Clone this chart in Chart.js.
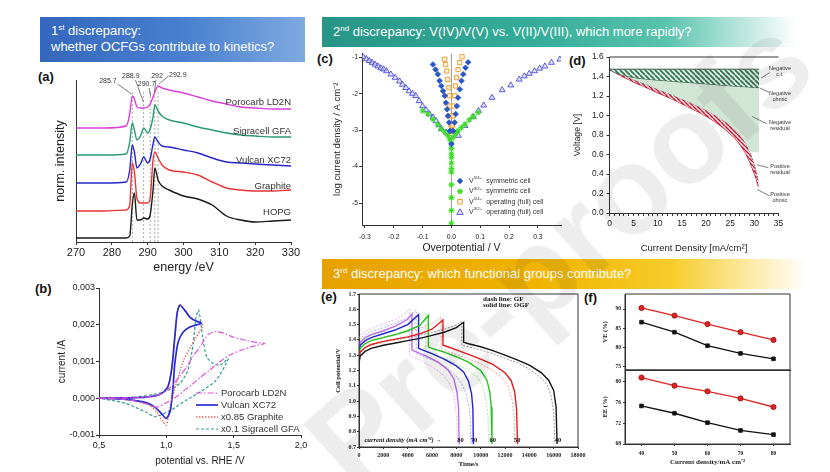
<!DOCTYPE html>
<html lang="en">
<head>
<meta charset="utf-8">
<title>Three discrepancies</title>
<script src="https://cdn.jsdelivr.net/npm/chart.js@4.4.1/dist/chart.umd.min.js"></script>
<style>
  html, body { margin: 0; padding: 0; background: #fff; }
  #page { position: relative; width: 830px; height: 472px; overflow: hidden; background: #fff;
          font-family: "Liberation Sans", Arial, sans-serif; }
  #page canvas { position: absolute; }
  .hdr { position: absolute; box-sizing: border-box; padding: 7px 0 0 11px; color: #fff;
         font-size: 13px; line-height: 16px; white-space: nowrap; }
  .hdr sup { font-size: 8px; line-height: 0; vertical-align: 5px; }
  .tag { position: absolute; font-size: 13px; font-weight: bold; color: #111; line-height: 16px; }
  .wm { position: absolute; left: 209px; top: 190px; width: 700px; text-align: center;
        font: bold 124px/124px "Liberation Sans", Arial, sans-serif; color: rgba(0,0,0,0.07);
        transform: rotate(-42deg); transform-origin: 50% 50%; white-space: nowrap; pointer-events: none; }
</style>
</head>
<body>
<div id="page">
  <div class="hdr" style="left:40px;top:17px;width:265px;height:45px;padding-top:6px;background:linear-gradient(90deg,#3467bd,#4a80cf 55%,#7eaae0);">1<sup>st</sup> discrepancy:<br>whether OCFGs contribute to kinetics?</div>
  <div class="hdr" style="left:322px;top:17px;width:475px;height:30px;background:linear-gradient(90deg,#279487,#35ad9a 45%,#58c3ac 72%,rgba(255,255,255,0));">2<sup>nd</sup> discrepancy: V(IV)/V(V) vs. V(II)/V(III), which more rapidly?</div>
  <div class="hdr" style="left:322px;top:259px;width:485px;height:30px;background:linear-gradient(90deg,#e6a100,#f0b400 45%,#f7cc2a 72%,rgba(255,255,255,0));">3<sup>rd</sup> discrepancy: which functional groups contribute?</div>
  <div class="tag" style="left:38px;top:69px;">(a)</div>
  <div class="tag" style="left:35px;top:281px;">(b)</div>
  <div class="tag" style="left:317px;top:51px;">(c)</div>
  <div class="tag" style="left:569px;top:53px;">(d)</div>
  <div class="tag" style="left:321px;top:289px;">(e)</div>
  <div class="tag" style="left:584px;top:290px;">(f)</div>
</div>
<script>
// ---------- (a) C K-edge spectra, stacked ----------
const energy    = [270, 278, 284, 285, 285.7, 286.3, 287, 288, 288.9, 290, 290.7, 291.5, 292, 292.9, 294, 296, 300, 304, 308, 312, 316, 320, 325, 330];
const hopg      = [4, 4, 4, 6, 37, 49, 22, 22, 24, 23, 27, 52, 74, 62, 56, 52, 46, 43, 37, 26, 22, 20, 21, 22];
const graphite  = [31, 31, 32, 37, 79, 70, 44, 39, 39, 39, 44, 82, 90, 84, 77, 72, 70, 67, 60, 54, 52, 51, 51, 52];
const vulcan    = [59, 59, 60, 72, 97, 90, 74, 78, 85, 79, 83, 98, 105, 100, 96, 95, 92, 89, 84, 80, 79, 78, 77, 76];
const sigracell = [87, 87, 88, 100, 119, 112, 102, 106, 114, 109, 113, 125, 137, 131, 126, 122, 119, 115, 112, 109, 107, 106, 105, 105];
const porocarb  = [114, 114, 116, 128, 146, 143, 135, 134, 134, 135, 138, 145, 150, 156, 154, 152, 149, 145, 141, 138, 135, 134, 133, 133];
const peakEnergies = [285.7, 288.9, 290.7, 292, 292.9];
const energyTicks = [270, 280, 290, 300, 310, 320, 330];

// ---------- (b) cyclic voltammograms ----------
const vulcanE = [0.5, 0.7, 0.85, 0.95, 1.01, 1.04, 1.063, 1.08, 1.10, 1.137, 1.174, 1.22, 1.26, 1.22, 1.174, 1.125, 1.088, 1.063, 1.05, 1.03, 1.0, 0.964, 0.915, 0.85, 0.7, 0.5];
const vulcanI = [0, 0.00001, 0.00003, 0.0001, 0.0003, 0.0008, 0.00167, 0.0023, 0.00253, 0.00239, 0.00221, 0.0021, 0.00205, 0.00199, 0.00194, 0.0018, 0.00153, 0.00094, 0.00031, -0.00033, -0.00055, -0.00042, -0.00024, -0.00012, -0.00003, 0];
const graphE  = [0.5, 0.7, 0.85, 0.95, 1.01, 1.04, 1.063, 1.08, 1.10, 1.137, 1.174, 1.22, 1.27, 1.25, 1.22, 1.18, 1.13, 1.09, 1.05, 1.02, 1.0, 0.97, 0.93, 0.87, 0.75, 0.5];
const graphI  = [0, 0.00001, 0.00003, 0.0001, 0.0003, 0.0008, 0.00167, 0.0023, 0.00255, 0.00241, 0.00222, 0.0021, 0.002, 0.00185, 0.00165, 0.0014, 0.00105, 0.0006, 0.0001, -0.0004, -0.00073, -0.00062, -0.00038, -0.00018, -0.00005, 0];
const poroE   = [0.5, 0.8, 0.95, 1.03, 1.1, 1.15, 1.2, 1.25, 1.31, 1.36, 1.42, 1.5, 1.6, 1.68, 1.73, 1.65, 1.55, 1.47, 1.4, 1.32, 1.25, 1.2, 1.13, 1.075, 1.0, 0.93, 0.85, 0.7, 0.5];
const poroI   = [0, 0.00002, 0.0001, 0.0003, 0.0006, 0.00085, 0.00115, 0.0014, 0.00173, 0.00181, 0.00178, 0.00166, 0.00157, 0.00151, 0.00149, 0.00142, 0.0013, 0.00117, 0.001, 0.00076, 0.00056, 0.0004, 0.0002, 0.00004, -0.00012, -0.00024, -0.00015, -0.00003, 0];
const sigraE  = [0.5, 0.75, 0.9, 1.0, 1.1, 1.16, 1.2, 1.22, 1.24, 1.27, 1.3, 1.35, 1.4, 1.46, 1.37, 1.27, 1.15, 1.03, 0.96, 0.915, 0.85, 0.7, 0.55, 0.5];
const sigraI  = [0, 0.00002, 0.0001, 0.0002, 0.0004, 0.00076, 0.0015, 0.0022, 0.0024, 0.00167, 0.00112, 0.00094, 0.0009, 0.00108, 0.00049, 0.00022, -0.00005, -0.00033, -0.00045, -0.0005, -0.00038, -0.00014, -0.00003, 0];
const potTicks = [0.5, 1.0, 1.5, 2.0];
const curTicks = [-0.001, 0, 0.001, 0.002, 0.003];

// ---------- (c) log current density vs overpotential ----------
const etaSym54 = [-0.064, -0.055, -0.047, -0.041, -0.035, -0.029, -0.023, -0.019, -0.015, -0.012, -0.008, -0.005, 0, 0.006, 0.011, 0.015, 0.019, 0.023, 0.029, 0.035, 0.041, 0.049, 0.058];
const ljSym54  = [-1.2, -1.34, -1.47, -1.65, -1.79, -1.93, -2.06, -2.25, -2.43, -2.61, -2.79, -3.02, -3.38, -3.02, -2.79, -2.56, -2.34, -2.11, -1.88, -1.65, -1.47, -1.29, -1.14];
const etaSym32 = [-0.1, -0.082, -0.064, -0.047, -0.035, -0.023, -0.012, -0.006, 0, 0, 0, 0, 0, 0, 0, 0, 0, 0, 0, 0.006, 0.014, 0.023, 0.035, 0.047, 0.062, 0.076, 0.093];
const ljSym32  = [-2.47, -2.56, -2.7, -2.84, -2.97, -3.06, -3.15, -3.25, -3.35, -3.5, -3.65, -3.75, -3.9, -4.05, -4.15, -4.5, -4.85, -5.2, -5.55, -3.2, -3.1, -3.02, -2.93, -2.84, -2.72, -2.63, -2.52];
const etaOp54  = [-0.023, -0.02, -0.016, -0.013, -0.009, -0.007, -0.005, -0.002, -0.001, 0, 0.004, 0.006, 0.008, 0.011, 0.014, 0.018, 0.023, 0.029, 0.037];
const ljOp54   = [-1.06, -1.2, -1.38, -1.61, -1.84, -2.06, -2.34, -2.61, -2.88, -3.15, -2.88, -2.61, -2.34, -2.06, -1.79, -1.56, -1.34, -1.15, -0.99];
const etaOp32  = [-0.306, -0.295, -0.285, -0.275, -0.265, -0.255, -0.245, -0.235, -0.225, -0.21, -0.195, -0.18, -0.17, -0.158, -0.147, -0.135, -0.124, -0.112, -0.1, -0.088, -0.076, -0.064, -0.053, -0.044, -0.035, -0.018, 0.024, 0.047, 0.076, 0.094, 0.112, 0.141, 0.176, 0.206, 0.235, 0.253, 0.27, 0.288, 0.306, 0.324, 0.347, 0.376];
const ljOp32   = [-0.99, -1.05, -1.1, -1.15, -1.2, -1.25, -1.3, -1.33, -1.38, -1.47, -1.56, -1.66, -1.75, -1.84, -1.93, -2.0, -2.06, -2.2, -2.34, -2.45, -2.56, -2.65, -2.75, -2.86, -2.97, -3.06, -3.15, -2.88, -2.63, -2.47, -2.32, -2.11, -1.9, -1.77, -1.61, -1.52, -1.45, -1.38, -1.31, -1.25, -1.15, -1.06];
const etaTicks = [-0.3, -0.2, -0.1, 0, 0.1, 0.2, 0.3];
const ljTicks  = [-5, -4, -3, -2, -1];

// ---------- (d) polarization curve, loss breakdown ----------
const cdOcv = [0, 31];
const vOcv  = [1.475, 1.475];
const cdTop = [0, 1, 2, 3, 5, 7.5, 10, 15, 20, 25, 31];
const vTop  = [1.475, 1.445, 1.425, 1.41, 1.39, 1.375, 1.365, 1.345, 1.325, 1.305, 1.285];
const cdBand   = [0, 2.5, 5, 7.5, 10, 12.5, 15, 17.5, 20, 22.5, 25, 26.5, 28, 29, 29.8, 30.4, 30.8];
const vBandTop = [1.475, 1.42, 1.37, 1.32, 1.27, 1.22, 1.17, 1.115, 1.055, 0.985, 0.9, 0.83, 0.73, 0.63, 0.52, 0.42, 0.33];
const vBandLow = [1.475, 1.405, 1.345, 1.29, 1.235, 1.18, 1.12, 1.06, 0.995, 0.915, 0.815, 0.74, 0.63, 0.53, 0.43, 0.35, 0.27];
const cdCorner = [31];
const vCorner  = [0.62];
const cdMajor = [0, 5, 10, 15, 20, 25, 30, 35];
const vdTicks = [0, 0.2, 0.4, 0.6, 0.8, 1.0, 1.2, 1.4, 1.6];

// ---------- (e) charge / discharge, OGF solid and GF dashed ----------
const t40 = [0, 100, 500, 1000, 2000, 3000, 4000, 5000, 6000, 7000, 8000, 8600, 8600, 9000, 10000, 11000, 12000, 13000, 14000, 15000, 15600, 16000, 16200, 16280];
const v40 = [1.25, 1.295, 1.325, 1.345, 1.365, 1.38, 1.395, 1.41, 1.43, 1.45, 1.48, 1.515, 1.385, 1.375, 1.355, 1.33, 1.30, 1.27, 1.235, 1.185, 1.135, 1.07, 0.96, 0.72];
const t50 = [0, 100, 500, 1000, 2000, 3000, 4000, 5000, 6000, 6900, 6900, 7300, 8000, 9000, 10000, 11000, 12000, 12500, 12800, 12950, 13030];
const v50 = [1.28, 1.32, 1.35, 1.37, 1.39, 1.405, 1.42, 1.44, 1.47, 1.53, 1.365, 1.355, 1.335, 1.305, 1.275, 1.24, 1.185, 1.135, 1.06, 0.95, 0.72];
const t60 = [0, 100, 500, 1000, 2000, 3000, 4000, 5000, 5700, 5700, 6000, 7000, 8000, 9000, 10000, 10500, 10750, 10870, 10930];
const v60 = [1.30, 1.345, 1.375, 1.395, 1.415, 1.435, 1.46, 1.495, 1.56, 1.355, 1.345, 1.32, 1.29, 1.255, 1.2, 1.14, 1.06, 0.96, 0.72];
const t70 = [0, 100, 500, 1000, 2000, 3000, 4000, 4900, 4900, 5200, 6000, 7000, 8000, 8600, 9000, 9250, 9360, 9400];
const v70 = [1.32, 1.365, 1.395, 1.415, 1.44, 1.465, 1.50, 1.565, 1.345, 1.335, 1.31, 1.275, 1.23, 1.19, 1.13, 1.05, 0.95, 0.72];
const t80 = [0, 100, 500, 1000, 2000, 3000, 4000, 4350, 4350, 4600, 5500, 6500, 7300, 7800, 8050, 8180, 8230];
const v80 = [1.34, 1.385, 1.415, 1.435, 1.46, 1.49, 1.535, 1.57, 1.335, 1.325, 1.295, 1.255, 1.205, 1.145, 1.06, 0.96, 0.72];
const t40gf = [0, 100, 500, 1000, 2000, 3000, 4000, 5000, 6000, 7000, 8000, 8450, 8450, 9000, 10000, 11000, 12000, 13000, 14000, 15000, 15500, 15800, 16000, 16100];
const v40gf = [1.28, 1.32, 1.35, 1.365, 1.385, 1.40, 1.415, 1.43, 1.45, 1.47, 1.495, 1.525, 1.365, 1.355, 1.335, 1.31, 1.28, 1.25, 1.21, 1.15, 1.10, 1.03, 0.93, 0.72];
const t50gf = [0, 100, 500, 1000, 2000, 3000, 4000, 5000, 6000, 6750, 6750, 7200, 8000, 9000, 10000, 11000, 11800, 12300, 12600, 12750, 12800];
const v50gf = [1.32, 1.355, 1.385, 1.40, 1.42, 1.435, 1.455, 1.475, 1.505, 1.55, 1.335, 1.325, 1.305, 1.275, 1.245, 1.20, 1.15, 1.09, 1.0, 0.9, 0.72];
const t60gf = [0, 100, 500, 1000, 2000, 3000, 4000, 5000, 5500, 5500, 6000, 7000, 8000, 9000, 9800, 10200, 10450, 10600, 10650];
const v60gf = [1.35, 1.385, 1.41, 1.43, 1.45, 1.47, 1.495, 1.53, 1.58, 1.325, 1.31, 1.28, 1.245, 1.20, 1.15, 1.09, 1.0, 0.9, 0.72];
const t70gf = [0, 100, 500, 1000, 2000, 3000, 4000, 4700, 4700, 5000, 6000, 7000, 7800, 8400, 8800, 9050, 9150, 9200];
const v70gf = [1.38, 1.41, 1.435, 1.455, 1.48, 1.51, 1.545, 1.595, 1.31, 1.30, 1.27, 1.23, 1.18, 1.12, 1.05, 0.96, 0.88, 0.72];
const t80gf = [0, 100, 500, 1000, 2000, 3000, 3800, 4150, 4150, 4400, 5200, 6000, 6800, 7400, 7800, 7950, 8050, 8080];
const v80gf = [1.41, 1.435, 1.455, 1.475, 1.505, 1.535, 1.57, 1.60, 1.30, 1.29, 1.26, 1.225, 1.18, 1.12, 1.04, 0.95, 0.85, 0.72];
const timeTicks = [0, 2000, 4000, 6000, 8000, 10000, 12000, 14000, 16000, 18000];
const cellTicks = [0.7, 0.8, 0.9, 1.0, 1.1, 1.2, 1.3, 1.4, 1.5, 1.6, 1.7];

// ---------- (f) voltage / energy efficiency ----------
const cdEff = [40, 50, 60, 70, 80];
const veOGF = [90.3, 88.3, 86.1, 84.0, 82.0];
const veGF  = [86.6, 84.0, 80.5, 78.5, 77.1];
const eeOGF = [80.75, 79.2, 78.1, 76.75, 75.1];
const eeGF  = [75.3, 73.9, 72.1, 70.6, 69.8];
const veTicks = [75, 80, 85, 90];
const eeTicks = [68, 72, 76, 80];

// ---------- helpers ----------
const SANS = "'Liberation Sans', Arial, sans-serif";
const SERIF = "'Liberation Serif', 'Times New Roman', serif";
const INK = '#222';
Chart.defaults.animation = false;
Chart.defaults.color = INK;
Chart.defaults.font.family = SANS;

const pts = (xs, ys) => xs.map((x, i) => ({ x, y: ys[i] }));
const fnt = (size, family, weight, style) => ({ size, family: family || SANS, weight: weight || 'normal', style: style || 'normal' });
const fontStr = f => `${f.style} ${f.weight} ${f.size}px ${f.family}`;

function axis(o) {
  return {
    type: 'linear', min: o.min, max: o.max, position: o.pos,
    afterBuildTicks: s => { s.ticks = o.ticks.map(v => ({ value: v })); },
    afterFit: s => {
      if (o.pos === 'bottom') s.height = o.size; else s.width = o.size;
      s.paddingLeft = s.paddingRight = s.paddingTop = s.paddingBottom = 0;
    },
    ticks: { display: o.labels !== false, font: o.font, color: INK, padding: o.pad || 0,
             callback: o.fmt || (v => v), maxRotation: 0, minRotation: 0, autoSkip: false },
    grid: { display: (o.tick || 0) > 0, drawOnChartArea: false, drawTicks: (o.tick || 0) > 0,
            tickLength: o.tick || 0, color: '#333', tickColor: '#333' },
    border: { display: o.border !== false, color: '#333', width: 1 },
    title: o.title ? { display: true, text: o.title, font: o.titleFont, color: INK, padding: o.titlePad }
                   : { display: false }
  };
}

function hatch(bg, fg, step, lw) {
  const c = document.createElement('canvas');
  c.width = c.height = step;
  const x = c.getContext('2d');
  x.fillStyle = bg; x.fillRect(0, 0, step, step);
  x.strokeStyle = fg; x.lineWidth = lw;
  x.beginPath();
  for (let k = -1; k <= 1; k++) { x.moveTo(k * step, 0); x.lineTo(k * step + step, step); }
  x.stroke();
  return x.createPattern(c, 'repeat');
}

function marker(ctx, style, r, x, y, fill, stroke, lw) {
  ctx.save();
  ctx.fillStyle = fill; ctx.strokeStyle = stroke; ctx.lineWidth = lw || 1;
  ctx.beginPath();
  if (style === 'rectRot') { ctx.moveTo(x, y - r); ctx.lineTo(x + r, y); ctx.lineTo(x, y + r); ctx.lineTo(x - r, y); ctx.closePath(); }
  else if (style === 'rect') { ctx.rect(x - r * 0.75, y - r * 0.75, r * 1.5, r * 1.5); }
  else if (style === 'triangle') { ctx.moveTo(x, y - r); ctx.lineTo(x + r * 0.95, y + r * 0.65); ctx.lineTo(x - r * 0.95, y + r * 0.65); ctx.closePath(); }
  else if (style === 'star') { ctx.moveTo(x - r, y); ctx.lineTo(x + r, y); ctx.moveTo(x, y - r); ctx.lineTo(x, y + r);
                               ctx.moveTo(x - r * 0.7, y - r * 0.7); ctx.lineTo(x + r * 0.7, y + r * 0.7);
                               ctx.moveTo(x - r * 0.7, y + r * 0.7); ctx.lineTo(x + r * 0.7, y - r * 0.7); ctx.stroke(); ctx.restore(); return; }
  else { ctx.arc(x, y, r, 0, Math.PI * 2); }
  ctx.fill(); ctx.stroke();
  ctx.restore();
}

// text with ^{...} superscripts
function richText(ctx, text, x, y, f, color) {
  const parts = text.split(/\^\{([^}]*)\}/);
  ctx.fillStyle = color; ctx.textAlign = 'left'; ctx.textBaseline = 'middle';
  parts.forEach((p, i) => {
    if (!p) return;
    const sup = i % 2 === 1;
    const ff = sup ? Object.assign({}, f, { size: f.size * 0.62 }) : f;
    ctx.font = fontStr(ff);
    ctx.fillText(p, x, sup ? y - f.size * 0.42 : y);
    x += ctx.measureText(p).width + (sup ? 2 : 0);
  });
}

const framePlugin = {
  id: 'frame',
  afterDraw(chart, args, o) {
    if (!o.sides) return;
    const { ctx, chartArea: a } = chart;
    ctx.save(); ctx.strokeStyle = '#333'; ctx.lineWidth = 1;
    ctx.beginPath();
    if (o.sides.includes('t')) { ctx.moveTo(a.left, a.top); ctx.lineTo(a.right, a.top); }
    if (o.sides.includes('r')) { ctx.moveTo(a.right, a.top); ctx.lineTo(a.right, a.bottom); }
    if (o.sides.includes('b')) { ctx.moveTo(a.left, a.bottom); ctx.lineTo(a.right, a.bottom); }
    if (o.sides.includes('l')) { ctx.moveTo(a.left, a.top); ctx.lineTo(a.left, a.bottom); }
    ctx.stroke(); ctx.restore();
  }
};

const notesPlugin = {
  id: 'notes',
  afterDatasetsDraw(chart, args, o) {
    if (!o.texts && !o.lines) return;
    const { ctx } = chart, sx = chart.scales.x, sy = chart.scales.y;
    ctx.save();
    (o.lines || []).forEach(l => {
      ctx.strokeStyle = l.color || '#444'; ctx.lineWidth = l.width || 0.7;
      ctx.beginPath();
      ctx.moveTo(sx.getPixelForValue(l.x1), sy.getPixelForValue(l.y1));
      ctx.lineTo(sx.getPixelForValue(l.x2), sy.getPixelForValue(l.y2));
      ctx.stroke();
    });
    (o.texts || []).forEach(t => {
      ctx.font = fontStr(t.font || o.font);
      ctx.fillStyle = t.color || o.color || '#333';
      ctx.textAlign = t.align || 'center'; ctx.textBaseline = 'middle';
      ctx.fillText(t.text, sx.getPixelForValue(t.x), sy.getPixelForValue(t.y));
    });
    ctx.restore();
  }
};

const keyPlugin = {
  id: 'key',
  afterDraw(chart, args, o) {
    if (!o.rows) return;
    const ctx = chart.ctx;
    ctx.save();
    o.rows.forEach((di, k) => {
      const ds = chart.data.datasets[di];
      const y = o.y + k * o.step;
      if (o.mode === 'line') {
        ctx.strokeStyle = ds.borderColor; ctx.lineWidth = ds.borderWidth;
        ctx.setLineDash(ds.borderDash || []);
        ctx.beginPath(); ctx.moveTo(o.x, y); ctx.lineTo(o.x + o.len, y); ctx.stroke();
        ctx.setLineDash([]);
      } else {
        marker(ctx, ds.pointStyle, ds.pointRadius, o.x + o.len / 2, y, ds.pointBackgroundColor, ds.pointBorderColor, ds.pointBorderWidth);
      }
      richText(ctx, ds.label, o.x + o.len + o.gap, y, o.font, '#333');
    });
    ctx.restore();
  }
};
Chart.register(framePlugin, notesPlugin, keyPlugin);

function makeChart(id, box, area, datasets, xo, yo, plugins) {
  const c = document.createElement('canvas');
  c.id = id; c.width = box.w; c.height = box.h;
  Object.assign(c.style, { left: box.x + 'px', top: box.y + 'px', width: box.w + 'px', height: box.h + 'px' });
  document.getElementById('page').appendChild(c);
  xo.pos = 'bottom'; xo.size = box.y + box.h - area.b;
  yo.pos = 'left'; yo.size = area.l - box.x;
  return new Chart(c, {
    type: 'line',
    data: { datasets },
    options: {
      responsive: false, animation: false,
      layout: { padding: { left: 0, top: area.t - box.y, right: box.x + box.w - area.r, bottom: 0 } },
      scales: { x: axis(xo), y: axis(yo) },
      elements: { point: { radius: 0, hoverRadius: 0 } },
      plugins: Object.assign({ legend: { display: false }, tooltip: { enabled: false } }, plugins || {})
    }
  });
}

// ---------- (a) ----------
const spectra = [
  { label: 'Porocarb LD2N', y: porocarb, color: '#dc3fdc', at: 140 },
  { label: 'Sigracell GFA', y: sigracell, color: '#2a9a74', at: 111 },
  { label: 'Vulcan XC72', y: vulcan, color: '#2626c8', at: 82 },
  { label: 'Graphite', y: graphite, color: '#e53535', at: 56 },
  { label: 'HOPG', y: hopg, color: '#1a1a1a', at: 30 }
];
const dsA = spectra.map(s => ({
  label: s.label, data: pts(energy, s.y), borderColor: s.color, borderWidth: 1.4,
  cubicInterpolationMode: 'monotone', pointRadius: 0
}));
peakEnergies.forEach(p => dsA.push({
  data: [{ x: p, y: 0 }, { x: p, y: 152 }], borderColor: '#8a8a8a', borderWidth: 0.7, borderDash: [2, 2], pointRadius: 0
}));
makeChart('chA', { x: 40, y: 70, w: 270, h: 210 }, { l: 76, t: 80, r: 291, b: 242 }, dsA,
  { min: 270, max: 330, ticks: energyTicks, font: fnt(11), tick: 3, pad: 1,
    title: 'energy /eV', titleFont: fnt(12.5), titlePad: { top: 0, bottom: 4.8 } },
  { min: 0, max: 162, ticks: [], labels: false, tick: 0,
    title: 'norm. intensity', titleFont: fnt(12.5), titlePad: { top: 13.5, bottom: 0 } },
  { notes: {
      font: fnt(9.5), color: '#333',
      texts: spectra.map(s => ({ x: 330, y: s.at, text: s.label, align: 'right' })).concat([
        { x: 278.9, y: 161, text: '285.7', font: fnt(7) },
        { x: 285.3, y: 166, text: '288.9', font: fnt(7) },
        { x: 289.7, y: 158, text: '290.7', font: fnt(7) },
        { x: 292.6, y: 166, text: '292', font: fnt(7) },
        { x: 298.4, y: 167, text: '292.9', font: fnt(7) }
      ]),
      lines: [
        { x1: 281.6, y1: 158, x2: 285.5, y2: 148 },
        { x1: 286.6, y1: 162, x2: 288.8, y2: 140 },
        { x1: 290.4, y1: 154, x2: 290.8, y2: 146 },
        { x1: 292.3, y1: 162, x2: 291.9, y2: 150 },
        { x1: 295.8, y1: 166, x2: 293.2, y2: 158 }
      ]
  } });

// ---------- (b) ----------
const dsB = [
  { label: 'Porocarb LD2N', data: pts(poroE, poroI), borderColor: '#e052e0', borderWidth: 1.2, borderDash: [6, 2, 1.5, 2] },
  { label: 'Vulcan XC72', data: pts(vulcanE, vulcanI), borderColor: '#2a2ad4', borderWidth: 1.7, borderDash: [] },
  { label: 'x0.85 Graphite', data: pts(graphE, graphI), borderColor: '#e86a5c', borderWidth: 1.4, borderDash: [1.5, 1.5] },
  { label: 'x0.1 Sigracell GFA', data: pts(sigraE, sigraI), borderColor: '#2f9f97', borderWidth: 1.2, borderDash: [3, 2] }
].map(d => Object.assign(d, { pointRadius: 0, tension: 0.25 }));
makeChart('chB', { x: 30, y: 282, w: 280, h: 190 }, { l: 99, t: 288, r: 301, b: 435 }, dsB,
  { min: 0.5, max: 2.0, ticks: potTicks, font: fnt(9), tick: 3, pad: 2,
    fmt: v => v.toFixed(1).replace('.', ','),
    title: 'potential vs. RHE /V', titleFont: fnt(10), titlePad: { top: 0, bottom: 5 } },
  { min: -0.001, max: 0.003, ticks: curTicks, font: fnt(9), tick: 3, pad: 1,
    fmt: v => v.toFixed(3).replace('.', ','),
    title: 'current /A', titleFont: fnt(10), titlePad: { top: 26.5, bottom: 0 } },
  { key: { mode: 'line', rows: [0, 1, 2, 3], x: 166, y: 111, step: 12, len: 22, gap: 3, font: fnt(9.5) } });

// ---------- (c) ----------
const dsC = [
  { label: 'V^{5/4+} symmetric cell', data: pts(etaSym54, ljSym54), pointStyle: 'rectRot', pointRadius: 2.8,
    pointBackgroundColor: '#2856c4', pointBorderColor: '#2856c4', pointBorderWidth: 0.8 },
  { label: 'V^{3/2+} symmetric cell', data: pts(etaSym32, ljSym32), pointStyle: 'star', pointRadius: 3,
    pointBackgroundColor: '#3fdc2a', pointBorderColor: '#3fdc2a', pointBorderWidth: 1.1 },
  { label: 'V^{5/4+} operating (full) cell', data: pts(etaOp54, ljOp54), pointStyle: 'rect', pointRadius: 3,
    pointBackgroundColor: 'rgba(255,240,215,0.6)', pointBorderColor: '#f0a030', pointBorderWidth: 1 },
  { label: 'V^{3/2+} operating (full) cell', data: pts(etaOp32, ljOp32), pointStyle: 'triangle', pointRadius: 3.4,
    pointBackgroundColor: 'rgba(200,200,250,0.5)', pointBorderColor: '#4b4bd2', pointBorderWidth: 0.9 }
].map(d => Object.assign(d, { showLine: false, pointHoverRadius: 0 }));
dsC.push({ data: [{ x: 0, y: -5.6 }, { x: 0, y: -0.9 }], borderColor: '#9a9a9a', borderWidth: 1, pointRadius: 0, order: 10 });
makeChart('chC', { x: 318, y: 46, w: 250, h: 214 }, { l: 362, t: 53.5, r: 561, b: 225 }, dsC,
  { min: -0.31, max: 0.38, ticks: etaTicks, font: fnt(6.8), tick: 3, pad: 5,
    fmt: v => v.toFixed(1),
    title: 'Overpotential / V', titleFont: fnt(10.5), titlePad: { top: 0, bottom: 5.7 } },
  { min: -5.6, max: -0.9, ticks: ljTicks, font: fnt(6.8), tick: 3, pad: 1,
    title: 'log current density / A cm\u207B\u00B2', titleFont: fnt(9.5), titlePad: { top: 13.3, bottom: 0 } },
  { key: { mode: 'marker', rows: [0, 1, 2, 3], x: 138, y: 135, step: 10.4, len: 8, gap: 5, font: fnt(7) } });

// ---------- (d) ----------
const greenHatch = hatch('#e4efe6', '#2c7550', 5, 1.7);
const redHatch = hatch('#fff4f4', '#c4102c', 4, 1.5);
const resid = pts(cdBand, vBandTop).filter(p => p.x <= 29).concat(pts(cdCorner, vCorner));
const dsD = [
  { data: pts(cdOcv, vOcv), borderColor: '#2b4a38', borderWidth: 0.9, fill: '+1', backgroundColor: greenHatch },
  { data: pts(cdTop, vTop), borderColor: '#2d5a42', borderWidth: 1.1, fill: '+1', backgroundColor: '#d2e6d6', cubicInterpolationMode: 'monotone' },
  { data: resid, borderColor: 'rgba(0,0,0,0)', borderWidth: 0, fill: false },
  { data: pts(cdBand, vBandTop), borderColor: '#555', borderWidth: 1, borderDash: [1.5, 1.5], fill: '+1', backgroundColor: redHatch, cubicInterpolationMode: 'monotone' },
  { data: pts(cdBand, vBandLow), borderColor: '#d0142e', borderWidth: 1.2, fill: false, cubicInterpolationMode: 'monotone' }
].map(d => Object.assign(d, { pointRadius: 0 }));
const tiny = fnt(5.6);
makeChart('chD', { x: 565, y: 50, w: 265, h: 210 }, { l: 609.5, t: 57, r: 778.5, b: 213 }, dsD,
  { min: 0, max: 35, ticks: cdMajor.concat(cdMajor.slice(0, -1).flatMap(m => [1, 2, 3, 4].map(k => m + k))).sort((a, b) => a - b),
    font: fnt(8.5), tick: 3, pad: 2.5, fmt: v => (v % 5 === 0 ? v : ''),
    title: 'Current Density [mA/cm\u00B2]', titleFont: fnt(9.5), titlePad: { top: 0, bottom: 6.3 } },
  { min: 0, max: 1.6, ticks: vdTicks, font: fnt(8.3), tick: 3, pad: 3,
    fmt: v => v.toFixed(1),
    title: 'Voltage [V]', titleFont: fnt(8.8), titlePad: { top: 7.7, bottom: 0 } },
  { frame: { sides: 't' },
    notes: {
      font: tiny, color: '#333',
      texts: [
        { x: 35.3, y: 1.487, text: 'Negative' }, { x: 35.3, y: 1.426, text: 'c.t.' },
        { x: 35.3, y: 1.231, text: 'Negative' }, { x: 35.3, y: 1.169, text: 'ohmic' },
        { x: 35.3, y: 0.933, text: 'Negative' }, { x: 35.3, y: 0.872, text: 'residual' },
        { x: 35.3, y: 0.482, text: 'Positive' }, { x: 35.3, y: 0.42, text: 'residual' },
        { x: 35.3, y: 0.195, text: 'Positive' }, { x: 35.3, y: 0.133, text: 'ohmic' }
      ],
      lines: [
        { x1: 33.2, y1: 1.44, x2: 31.4, y2: 1.385 },
        { x1: 33.0, y1: 1.24, x2: 31.2, y2: 1.28 },
        { x1: 32.6, y1: 0.915, x2: 29.5, y2: 0.99 },
        { x1: 32.9, y1: 0.465, x2: 30.5, y2: 0.495 },
        { x1: 33.2, y1: 0.175, x2: 30.6, y2: 0.24 }
      ]
  } });

// ---------- (e) ----------
const runs = [
  [t40, v40, '#151515'], [t50, v50, '#e31e1e'], [t60, v60, '#22c41e'], [t70, v70, '#2323d2'], [t80, v80, '#bd6ee6']
];
const runsGF = [
  [t40gf, v40gf, '#8c8c8c'], [t50gf, v50gf, '#f29a9a'], [t60gf, v60gf, '#98e898'], [t70gf, v70gf, '#a4a4f2'], [t80gf, v80gf, '#e6b2f2']
];
const dsE = runs.map(r => ({ data: pts(r[0], r[1]), borderColor: r[2], borderWidth: 1.4, pointRadius: 0, tension: 0 }))
  .concat(runsGF.map(r => ({ data: pts(r[0], r[1]), borderColor: r[2], borderWidth: 0.9, borderDash: [2, 1.5], pointRadius: 0, tension: 0 })));
const serifB = s => fnt(s, SERIF, 'bold');
makeChart('chE', { x: 318, y: 290, w: 272, h: 182 }, { l: 359, t: 294, r: 578, b: 447 }, dsE,
  { min: 0, max: 18000, ticks: timeTicks, font: serifB(6), tick: 2, pad: 3,
    title: 'Time/s', titleFont: serifB(7), titlePad: { top: 0, bottom: 3.8 } },
  { min: 0.7, max: 1.7, ticks: cellTicks, font: serifB(6), tick: 2, pad: 1,
    fmt: v => v.toFixed(1),
    title: 'Cell potential/V', titleFont: serifB(6.6), titlePad: { top: 16, bottom: 0 } },
  { frame: { sides: 'trbl' },
    notes: {
      font: serifB(7), color: '#111',
      texts: [
        { x: 10200, y: 1.668, text: 'dash line: GF', align: 'left' },
        { x: 10200, y: 1.626, text: 'solid line: OGF', align: 'left' },
        { x: 450, y: 0.745, text: 'current density (mA cm\u207B\u00B2) \u2192', align: 'left', font: fnt(6.5, SERIF, 'bold', 'italic') },
        { x: 8350, y: 0.745, text: '80', font: serifB(6.5) }, { x: 9450, y: 0.745, text: '70', font: serifB(6.5) },
        { x: 11000, y: 0.745, text: '60', font: serifB(6.5) }, { x: 13000, y: 0.745, text: '50', font: serifB(6.5) },
        { x: 16350, y: 0.745, text: '40', font: serifB(6.5) }
      ]
  } });

// ---------- (f) ----------
const effSets = (red, black) => [
  { data: pts(cdEff, red), borderColor: '#e02424', backgroundColor: '#e02424', pointBackgroundColor: '#e02424', pointBorderColor: '#901010',
    pointStyle: 'circle', pointRadius: 2.6, pointBorderWidth: 0.8, borderWidth: 1.3 },
  { data: pts(cdEff, black), borderColor: '#111', backgroundColor: '#111', pointBackgroundColor: '#111', pointBorderColor: '#111',
    pointStyle: 'rect', pointRadius: 2.6, pointBorderWidth: 0.8, borderWidth: 1.3 }
];
// canvases reach a little past the plot frame so the point overflow padding stays outside it
makeChart('chF1', { x: 585, y: 284, w: 245, h: 96 }, { l: 625, t: 294, r: 790, b: 370 }, effSets(veOGF, veGF),
  { min: 35, max: 85, ticks: cdEff, labels: false, tick: 0 },
  { min: 74.2, max: 93.9, ticks: veTicks, font: serifB(5.6), tick: 2, pad: 2,
    title: 'VE (%)', titleFont: serifB(6.5), titlePad: { top: 16, bottom: 0 } },
  { frame: { sides: 'trbl' } });
makeChart('chF2', { x: 585, y: 360, w: 245, h: 112 }, { l: 625, t: 370, r: 790, b: 444 }, effSets(eeOGF, eeGF),
  { min: 35, max: 85, ticks: cdEff, font: serifB(5.6), tick: 2, pad: 4,
    title: 'Current density/mA cm\u207B\u00B2', titleFont: serifB(7), titlePad: { top: 0, bottom: 5.8 } },
  { min: 68, max: 82.2, ticks: eeTicks, font: serifB(5.6), tick: 2, pad: 2,
    title: 'EE (%)', titleFont: serifB(6.5), titlePad: { top: 16, bottom: 0 } },
  { frame: { sides: 'trbl' } });

// watermark on top
const wm = document.createElement('div');
wm.className = 'wm'; wm.textContent = 'Pre-proofs';
document.getElementById('page').appendChild(wm);
</script>
</body>
</html>
